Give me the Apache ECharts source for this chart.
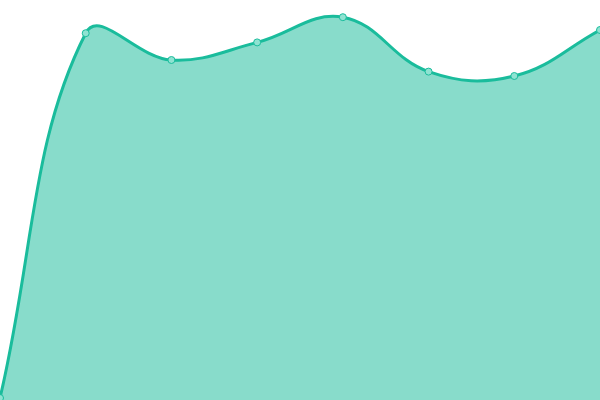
<!DOCTYPE html>
<html lang="en">
<head>
    <meta charset="UTF-8">
    <title>Area</title>
    <script src="https://cdn.jsdelivr.net/npm/echarts@6/dist/echarts.min.js"></script>
</head>
<body style="margin:0;background:#fff">
<div id="echarts" style="width:600px;height:400px"></div>
<script>
    var categories = ['1', '2', '3', '4', '5', '6', '7', '8'];
    var values = [0.5, 91.7, 85, 89.4, 95.7, 82.1, 81, 92.5];

    var tension = 0.4;

    // cardinal spline through the points (pixel space), like a tension curve
    function curvePath(pts) {
        var d = 'M' + pts[0][0] + ' ' + pts[0][1];
        var cps = pts.map(function (cur, i) {
            var prev = pts[i - 1] || cur;
            var next = pts[i + 1] || cur;
            var d01 = Math.hypot(cur[0] - prev[0], cur[1] - prev[1]);
            var d12 = Math.hypot(next[0] - cur[0], next[1] - cur[1]);
            var s01 = d01 / (d01 + d12) || 0;
            var s12 = d12 / (d01 + d12) || 0;
            var fa = tension * s01, fb = tension * s12;
            var vx = next[0] - prev[0], vy = next[1] - prev[1];
            return {
                prev: [cur[0] - fa * vx, cur[1] - fa * vy],
                next: [cur[0] + fb * vx, cur[1] + fb * vy]
            };
        });
        for (var i = 1; i < pts.length; i++) {
            var a = cps[i - 1].next, b = cps[i].prev;
            d += ' C' + a[0] + ' ' + a[1] + ' ' + b[0] + ' ' + b[1] + ' ' + pts[i][0] + ' ' + pts[i][1];
        }
        return d;
    }

    var myCharts = echarts.init(document.getElementById('echarts'));
    var option = {
        animation: false,
        grid: {left: 0, right: 0, top: 0, bottom: 0},
        xAxis: {
            type: 'category',
            show: false,
            boundaryGap: false,
            data: categories
        },
        yAxis: {
            type: 'value',
            show: false,
            min: 0,
            max: 100
        },
        series: [
            {
                type: 'custom',
                data: [[0, 0]],
                renderItem: function (params, api) {
                    var pts = values.map(function (v, i) {
                        return api.coord([i, v]);
                    });
                    var base = api.coord([0, 0])[1];
                    var line = curvePath(pts);
                    var last = pts[pts.length - 1];
                    return {
                        type: 'group',
                        children: [
                            {
                                type: 'path',
                                shape: {pathData: line + ' L' + last[0] + ' ' + base + ' L' + pts[0][0] + ' ' + base + ' Z'},
                                style: {fill: 'rgba(26,188,156,0.52)', stroke: null}
                            },
                            {
                                type: 'path',
                                shape: {pathData: line},
                                style: {fill: null, stroke: '#1abc9c', lineWidth: 3}
                            }
                        ]
                    };
                }
            },
            {
                type: 'line',
                data: values,
                z: 5,
                symbol: 'circle',
                symbolSize: 7,
                itemStyle: {
                    color: '#8fe3d2',
                    borderColor: '#1abc9c',
                    borderWidth: 1
                },
                lineStyle: {opacity: 0}
            }
        ]
    };
    myCharts.setOption(option);
</script>
</body>
</html>
